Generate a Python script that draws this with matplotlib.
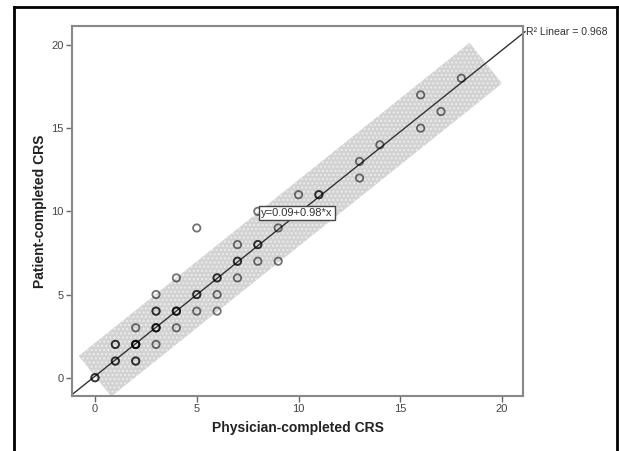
import numpy as np
import matplotlib.pyplot as plt
from matplotlib.patches import Polygon
from matplotlib.lines import Line2D

# scores (repeated pairs are listed once per case)
physician = [0, 0, 1, 1, 1, 1, 2, 2, 2, 2, 2, 2, 2, 3, 3, 3, 3, 3, 3, 3,
             4, 4, 4, 4, 4, 5, 5, 5, 5, 6, 6, 6, 6, 7, 7, 7, 7, 8, 8, 8,
             8, 9, 9, 10, 11, 11, 13, 13, 14, 16, 16, 17, 18]
patient = [0, 0, 1, 1, 2, 2, 1, 1, 2, 2, 2, 3, 2, 3, 3, 3, 4, 4, 5, 2,
           3, 4, 4, 4, 6, 4, 5, 5, 9, 4, 5, 6, 6, 6, 7, 7, 8, 7, 8, 8,
           10, 7, 9, 11, 11, 11, 12, 13, 14, 15, 17, 16, 18]

intercept = 0.09
slope = 0.98
r_squared = 0.968
band_half = 2.0          # vertical half-width of the prediction band
band_x = (0.0, 19.2)     # where the band starts and stops along the fit

plt.rcParams['font.family'] = ['Liberation Sans', 'DejaVu Sans']

fig = plt.figure(figsize=(6.19, 4.51), dpi=100)
ax = fig.add_axes([72 / 619, 55 / 451, 451 / 619, 370 / 451])
ax.set_xlim(-1.13, 21.03)
ax.set_ylim(-1.1, 21.14)

def fit(x):
    return intercept + slope * np.asarray(x)

# prediction band: a rectangle lying along the fit line (square ends on screen)
td = ax.transData
p0 = td.transform((band_x[0], fit(band_x[0])))
p1 = td.transform((band_x[1], fit(band_x[1])))
d = (p1 - p0) / np.hypot(*(p1 - p0))
n = np.array([-d[1], d[0]])
h = td.transform((0, band_half))[1] - td.transform((0, 0))[1]
w = h * abs(d[0])
corners = np.array([p0 + w * n, p1 + w * n, p1 - w * n, p0 - w * n])
corners = td.inverted().transform(corners)
band = Polygon(corners, closed=True, facecolor='#d2d2d2', edgecolor='#ececec',
               linewidth=0, hatch='....', zorder=1)
ax.add_patch(band)

# fit line, runs a little past the frame at the top right
xl = np.array([-1.13, 21.13])
ax.plot(xl, fit(xl), color='#333333', linewidth=1.0, zorder=2, clip_on=False)

ax.scatter(physician, patient, s=28, facecolors='none', edgecolors='black',
           linewidths=1.3, alpha=0.55, zorder=3)

ax.text(8.15, 9.9, 'y=0.09+0.98*x', fontsize=8, color='#333333',
        ha='left', va='center', zorder=4,
        bbox=dict(boxstyle='square,pad=0.2', facecolor='white',
                  edgecolor='#444444', linewidth=1.0))
ax.text(21.18, 20.8, f'R² Linear = {r_squared}', fontsize=7.6,
        color='#333333', ha='left', va='center', clip_on=False)

ticks = [0, 5, 10, 15, 20]
ax.set_xticks(ticks)
ax.set_yticks(ticks)
ax.tick_params(direction='out', length=4, width=1, color='#666666',
               labelsize=8, labelcolor='#444444', pad=2)
for sp in ax.spines.values():
    sp.set_color('#888888')
    sp.set_linewidth(1.5)

ax.set_xlabel('Physician-completed CRS', fontsize=10, fontweight='bold',
              color='#222222', labelpad=5)
ax.set_ylabel('Patient-completed CRS', fontsize=10, fontweight='bold',
              color='#222222', labelpad=3)

# outer frame of the figure (no bottom edge, it is cut off)
for xs, ys in [((14 / 619, 14 / 619), (0, 1 - 7 / 451)),
               ((14 / 619, 617 / 619), (1 - 7 / 451, 1 - 7 / 451)),
               ((617 / 619, 617 / 619), (0, 1 - 7 / 451))]:
    fig.add_artist(Line2D(xs, ys, color='black', linewidth=2.0,
                          transform=fig.transFigure))

fig.savefig('out.png', dpi=100)
